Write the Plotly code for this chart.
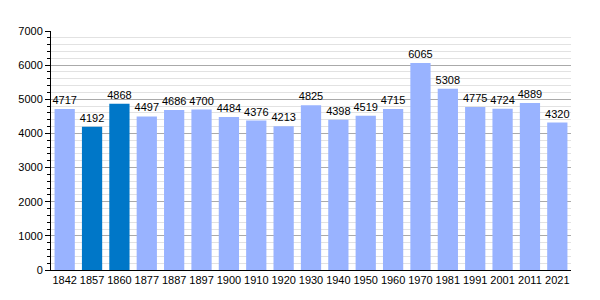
import plotly.graph_objects as go

years = ["1842", "1857", "1860", "1877", "1887", "1897", "1900", "1910", "1920", "1930",
         "1940", "1950", "1960", "1970", "1981", "1991", "2001", "2011", "2021"]
population = [4717, 4192, 4868, 4497, 4686, 4700, 4484, 4376, 4213, 4825,
              4398, 4519, 4715, 6065, 5308, 4775, 4724, 4889, 4320]
highlight = ["1857", "1860"]

colors = ["#0077c8" if y in highlight else "#99b3ff" for y in years]

fig = go.Figure(go.Bar(
    x=years, y=population, marker=dict(color=colors, line=dict(width=0)),
    text=[str(v) for v in population], textposition="outside",
    textfont=dict(color="black", size=11), cliponaxis=False,
    constraintext="none", width=0.74,
))
fig.update_layout(
    width=600, height=300,
    margin=dict(l=51, r=29, t=31, b=30),
    paper_bgcolor="white", plot_bgcolor="white",
    font=dict(family="Liberation Sans, Arial, sans-serif", size=11, color="black"),
    showlegend=False,
)
fig.update_xaxes(type="category", showline=True, linecolor="black", linewidth=1,
                 ticks="", tickfont=dict(size=11), showgrid=False)
fig.update_yaxes(range=[0, 7000], dtick=1000, showline=True, linecolor="black", linewidth=1,
                 ticks="outside", ticklen=5, tickcolor="black", showgrid=True,
                 gridcolor="#aaaaaa", gridwidth=1, zeroline=False,
                 minor=dict(dtick=200, ticks="outside", ticklen=3, tickcolor="black",
                            showgrid=True, gridcolor="#e2e2e2", gridwidth=1),
                 tickfont=dict(size=11))
fig.write_html("out.html")
